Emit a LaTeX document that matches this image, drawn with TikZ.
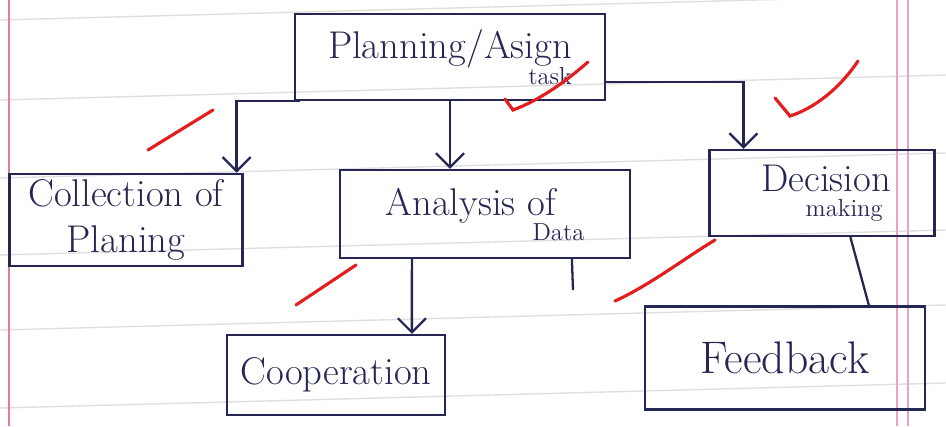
\documentclass[tikz,border=0pt]{standalone}
\usepackage{xcolor}
\usetikzlibrary{calc,positioning,arrows.meta}

\definecolor{ink}{RGB}{38,38,85}
\definecolor{tickred}{RGB}{228,30,30}
\definecolor{margin}{RGB}{232,120,170}

\begin{document}
\begin{tikzpicture}[->,>={Straight Barb[length=8pt,width=16pt]},x=0.02cm,y=-0.02cm,line width=1.3pt,ink,
  box node/.style={rectangle,draw,text=ink,font=\fontsize{22}{26}\selectfont,align=center},
  small word/.style={font=\fontsize{14}{14}\selectfont},
  tick/.style={-,tickred,line width=1.8pt,line cap=round},
  rule line/.style={-,gray!25,line width=0.8pt}]

    \useasboundingbox (0,0) rectangle (946,426);

    % ruled paper
    \foreach \y in {20,100,178,255,330,408}
        \draw[rule line] (0,\y) -- (946,\y-25);
    \draw[-,margin,line width=1pt] (9,0) -- (9,426);
    \draw[-,margin!70,line width=0.8pt] (897,0) -- (897,426);
    \draw[-,margin!70,line width=0.8pt] (908,0) -- (908,426);

    \node (1) at (450,57) [box node, minimum width=6.2cm, minimum height=1.72cm]
        {Planning/Asign\llap{\raisebox{-1.6ex}{\fontsize{14}{14}\selectfont task}}};

    \node (2) at (126,220) [box node, minimum width=4.66cm, minimum height=1.84cm]
        {Collection of\\Planing};
    \node (3) at (485,214) [box node, minimum width=5.8cm, minimum height=1.76cm]
        {Analysis of\hspace{-0.6em}\raisebox{-1.5ex}{\fontsize{14}{14}\selectfont Data}};
    \node (4) at (822,193) [box node, minimum width=4.5cm, minimum height=1.72cm]
        {Decision\hspace{-2.2em}\raisebox{-1.5ex}{\fontsize{14}{14}\selectfont making}};

    \node (5) at (336,375) [box node, minimum width=4.36cm, minimum height=1.6cm]{Cooperation};
    \node (6) at (785,358) [box node, minimum width=5.6cm, minimum height=2.06cm,
        font=\fontsize{26}{30}\selectfont]{Feedback};

    \coordinate (7) at (573,290);

    \draw ($(1.south west)+(6,0)$) -| ($(2.north east)+(-7,0)$);
    \draw (1.south) -- (1.south |- 3.north);
    \draw ($(1.east)+(0,25)$) -| ($(4.north west)+(35,0)$);
    \draw ($(3.south west)+(73,0)$) -- ($(5.north west)+(186,0)$);

    \path[-]
        ($(3.south west)+(233,0)$) edge (7)
        ($(4.south west)+(142,0)$) edge ($(6.north west)+(225,0)$)
    ;

    % red marks
    \draw[tick] (148,150) -- (213,110);
    \draw[tick] (505,99) -- (513,110) .. controls (540,100) and (565,82) .. (588,62);
    \draw[tick] (775,98) -- (790,116) .. controls (815,108) and (840,88) .. (858,61);
    \draw[tick] (296,305) -- (356,265);
    \draw[tick] (615,301) .. controls (650,285) and (685,258) .. (715,240);
\end{tikzpicture}
\end{document}
